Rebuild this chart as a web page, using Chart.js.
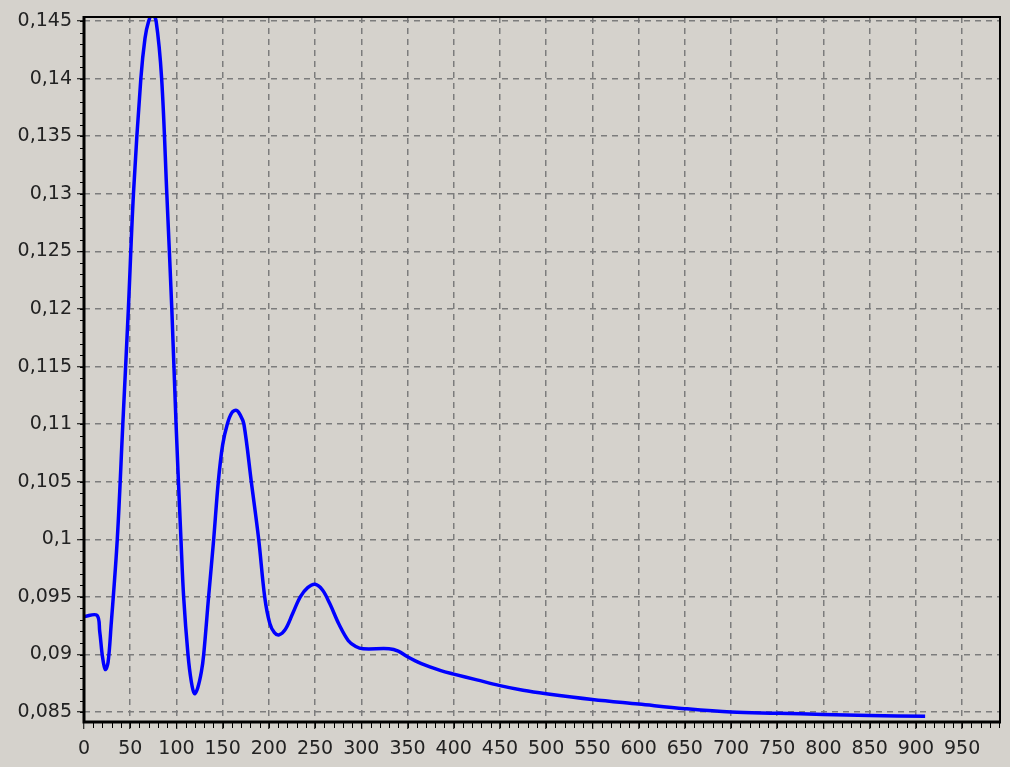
<!DOCTYPE html>
<html lang="en">
<head>
    <meta charset="UTF-8">
    <title>Curve</title>
    <script src="https://cdn.jsdelivr.net/npm/chart.js"></script>
    <style>
        body { margin: 0; background: #d5d2cc; }
        #box { width: 1010px; height: 767px; }
    </style>
</head>
<body>
<div id="box"><canvas id="plot" width="1010" height="767"></canvas></div>
<script>
    // values
    xs = [0, 14, 17, 20, 23, 26, 29.3, 36, 42, 48, 53.5, 61.5, 66, 70, 74,
          78, 84, 89.6, 95, 99.6, 104.9, 107.8, 112.5, 116, 119.5, 123, 127,
          129.5, 134.8, 140.3, 145.3, 150, 155, 160, 165, 169, 173, 181, 189, 195.5, 201, 206,
          211, 218, 226, 234, 242, 250, 258, 266, 276, 286, 294, 302, 330, 340, 350, 365, 386,
          400, 425, 450, 475, 500, 550, 600, 650, 700, 750, 800, 850, 910];
    ys = [0.0933, 0.0934, 0.0920, 0.0898, 0.0887, 0.0893, 0.0925, 0.1000, 0.1100, 0.1200, 0.1300,
          0.1400, 0.1435, 0.1450, 0.1456,
          0.1450, 0.1400, 0.1300, 0.1200, 0.1100, 0.1000, 0.0950, 0.0900, 0.0877, 0.0866, 0.0871, 0.0885,
          0.0900, 0.0950, 0.1000, 0.1050, 0.1082, 0.1100, 0.1110, 0.1112, 0.1108, 0.1100,
          0.1050, 0.1000, 0.0950, 0.0927, 0.0919,
          0.0917, 0.0922, 0.0936, 0.0950, 0.0958, 0.0961, 0.0956, 0.0944, 0.0926, 0.0912,
          0.0907, 0.0905, 0.0905, 0.0903, 0.0898, 0.0892, 0.0886,
          0.0883, 0.0878, 0.0873, 0.0869, 0.0866, 0.0861, 0.0857, 0.0853, 0.0850, 0.0849,
          0.0848, 0.0847, 0.08465];

    xTicks = [0, 50, 100, 150, 200, 250, 300, 350, 400, 450, 500, 550, 600, 650, 700, 750, 800, 850, 900, 950];
    yTicks = [0.085, 0.09, 0.095, 0.1, 0.105, 0.11, 0.115, 0.12, 0.125, 0.13, 0.135, 0.14, 0.145];
    xRange = [0, 991];
    yRange = [0.08414, 0.14535];

    pts = [];
    for (let i = 0; i < xs.length; i++) {
        pts.push({x: xs[i], y: ys[i]});
    }

    function fmt(v) {
        return String(+v.toFixed(3)).replace('.', ',');
    }

    // frame round the plot and the small minor ticks
    const frame = {
        id: 'frame',
        afterDraw(chart) {
            let c = chart.ctx, a = chart.chartArea;
            let sx = chart.scales.x, sy = chart.scales.y;
            c.save();
            c.strokeStyle = '#000';
            c.lineWidth = 1;
            c.beginPath();
            for (let v = 10; v < xRange[1]; v += 10) {
                let p = Math.round(sx.getPixelForValue(v)) + 0.5;
                c.moveTo(p, a.bottom);
                c.lineTo(p, a.bottom + 6);
            }
            for (let v = 0.085; v < yRange[1]; v += 0.001) {
                let p = Math.round(sy.getPixelForValue(v)) + 0.5;
                c.moveTo(a.left - 4, p);
                c.lineTo(a.left, p);
            }
            c.stroke();
            c.lineWidth = 2;
            c.strokeRect(a.left, a.top, a.right - a.left, a.bottom - a.top);
            c.lineWidth = 3;
            c.beginPath();
            c.moveTo(a.left, a.top - 1);
            c.lineTo(a.left, a.bottom);
            c.lineTo(a.right + 1, a.bottom);
            c.stroke();
            c.restore();
        }
    };

    const ctx = document.getElementById('plot');
    var chart = new Chart(ctx, {
        type: 'line',
        data: {
            datasets: [{
                data: pts,
                borderColor: '#0000ff',
                borderWidth: 3.5,
                pointRadius: 0,
                tension: 0.35,
                fill: false
            }]
        },
        options: {
            responsive: false,
            animation: false,
            events: [],
            layout: { padding: { left: 0, right: 10, top: 17, bottom: 0 } },
            plugins: { legend: { display: false }, tooltip: { enabled: false } },
            scales: {
                x: {
                    type: 'linear',
                    min: xRange[0],
                    max: xRange[1],
                    afterBuildTicks: s => { s.ticks = xTicks.map(v => ({value: v})); },
                    afterFit: s => { s.height = 45; },
                    grid: { color: '#7c7c7c', lineWidth: 1.5, tickLength: 7, tickColor: '#000', tickWidth: 1 },
                    border: { display: false, dash: [6, 5] },
                    ticks: {
                        color: '#222',
                        padding: 9,
                        maxRotation: 0,
                        autoSkip: false,
                        font: { family: 'DejaVu Sans', size: 19 },
                        callback: v => String(v)
                    }
                },
                y: {
                    type: 'linear',
                    min: yRange[0],
                    max: yRange[1],
                    afterBuildTicks: s => { s.ticks = yTicks.map(v => ({value: v})); },
                    afterFit: s => { s.width = 84; },
                    grid: { color: '#7c7c7c', lineWidth: 1.5, tickLength: 7, tickColor: '#000', tickWidth: 1 },
                    border: { display: false, dash: [6, 5] },
                    ticks: {
                        color: '#222',
                        padding: 5,
                        autoSkip: false,
                        font: { family: 'DejaVu Sans', size: 19 },
                        callback: v => fmt(v)
                    }
                }
            }
        },
        plugins: [frame]
    });
</script>
</body>
</html>
